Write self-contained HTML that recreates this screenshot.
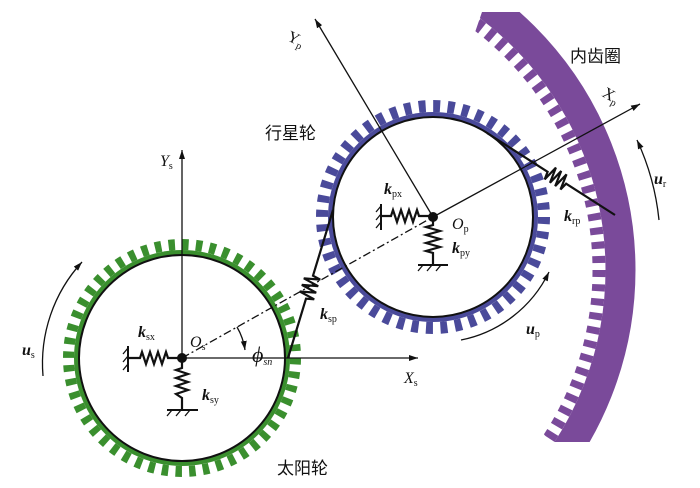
<!DOCTYPE html>
<html><head><meta charset="utf-8"><style>
html,body{margin:0;padding:0;background:#fff;width:700px;height:488px;overflow:hidden;}
svg{display:block;}
text{font-family:"Liberation Serif","Noto Serif CJK SC",serif;fill:#111;}
.cn{font-family:"Liberation Sans","Noto Sans CJK SC",sans-serif;font-size:17px;}
.it{font-style:italic;font-weight:bold;font-size:16px;}
.sub{font-size:10px;font-style:normal;font-weight:normal;}
</style></head><body>
<svg width="700" height="488" viewBox="0 0 700 488" xmlns="http://www.w3.org/2000/svg">
<defs>
<marker id="ar" markerWidth="10" markerHeight="8" refX="9" refY="4" orient="auto" markerUnits="userSpaceOnUse"><path d="M0,1 L9,4 L0,7 Z" fill="#111"/></marker>
<clipPath id="rc"><polygon points="482,12 700,12 700,442 550,442 400,250"/></clipPath>
</defs>
<!-- ring gear -->
<g clip-path="url(#rc)" fill="none" stroke="#7a4a9a">
<circle cx="290.5" cy="270" r="330" stroke-width="30"/>
<circle cx="290.5" cy="270" r="308.5" stroke-width="13" stroke-dasharray="7 7.253"/>
</g>
<!-- sun gear -->
<circle cx="182" cy="358" r="108" fill="#3a8f2e"/>
<circle cx="182" cy="358" r="113.5" fill="none" stroke="#3a8f2e" stroke-width="11" stroke-dasharray="6.5 7.213"/>
<!-- planet gear -->
<circle cx="433" cy="217" r="105" fill="#4a4a9a"/>
<circle cx="433" cy="217" r="111" fill="none" stroke="#4a4a9a" stroke-width="12" stroke-dasharray="7 7.529"/>
<circle cx="182" cy="358" r="103" fill="#fff" stroke="#111" stroke-width="2"/>
<circle cx="433" cy="217" r="100" fill="#fff" stroke="#111" stroke-width="2"/>
<!-- axes -->
<g stroke="#111" stroke-width="1.3" fill="none">
<line x1="182" y1="358" x2="182" y2="150" marker-end="url(#ar)"/>
<line x1="182" y1="358" x2="418" y2="358" marker-end="url(#ar)"/>
<line x1="433" y1="217" x2="315" y2="19" marker-end="url(#ar)"/>
<line x1="433" y1="217" x2="640" y2="104" marker-end="url(#ar)"/>
<line x1="182" y1="358" x2="433" y2="217" stroke-dasharray="8,3,2,3"/>
<path d="M237,327 A63,63 0 0 1 245,350" marker-end="url(#ar)"/>
<path d="M43,376 A150,150 0 0 1 82,262" marker-end="url(#ar)"/>
<path d="M461,340 A125,125 0 0 0 549,272" marker-end="url(#ar)"/>
<path d="M659,220 A250,250 0 0 0 637,140" marker-end="url(#ar)"/>
</g>
<!-- springs -->
<g stroke="#111" fill="none" stroke-width="2.2" stroke-linejoin="miter">
<path d="M128,358 L140,358 L142,352 L146,364 L150,352 L154,364 L158,352 L162,364 L166,352 L168,358 L182,358"/>
<path d="M182,358 L182,368 L176,370 L188,374 L176,378 L188,382 L176,386 L188,390 L176,394 L182,398 L182,410"/>
<path d="M381,216 L391,216 L393,210 L397,222 L401,210 L405,222 L409,210 L413,222 L417,210 L419,216 L433,216"/>
<path d="M433,217 L433,225 L426,227 L440,231 L426,235 L440,239 L426,243 L440,247 L426,251 L433,253 L433,265"/>
<path d="M288,358 L306,298.7 L314.2,299.3 L299.8,291.5 L316.2,292.7 L301.8,284.9 L318.2,286.2 L303.8,278.3 L320.2,279.6 L313,275.7 L333,210"/>
<path d="M487,133 L547.6,171.8 L544.7,179.4 L555.9,167.6 L550,182.8 L561.2,171 L555.2,186.1 L566.5,174.4 L560.5,189.5 L566.1,183.7 L615,215"/>
<path d="M128,346 L128,372 M418,265 L448,265 M167,410 L198,410 M381,204 L381,230" stroke-width="2"/>
<path d="M128,348 l-5,6 M128,356 l-5,6 M128,364 l-5,6 M172,410 l-5,6 M181,410 l-5,6 M190,410 l-5,6 M381,206 l-5,6 M381,214 l-5,6 M381,222 l-5,6 M423,265 l-5,6 M432,265 l-5,6 M441,265 l-5,6" stroke-width="1.3"/>
</g>
<circle cx="182" cy="358" r="5" fill="#111"/>
<circle cx="433" cy="217" r="5" fill="#111"/>
<!-- labels -->
<text class="cn" x="265" y="139">行星轮</text>
<text class="cn" x="570" y="62">内齿圈</text>
<text class="cn" x="277" y="474">太阳轮</text>
<text x="160" y="166" style="font-style:italic;font-size:16px">Y<tspan class="sub" dy="3">s</tspan></text>
<text x="404" y="383" style="font-style:italic;font-size:16px">X<tspan class="sub" dy="3">s</tspan></text>
<text x="288" y="44" transform="rotate(25 296 38)" style="font-size:16px">Y<tspan class="sub" dy="3">p</tspan></text>
<text x="603" y="101" transform="rotate(30 612 95)" style="font-size:16px">X<tspan class="sub" dy="3">p</tspan></text>
<text x="190" y="347" style="font-style:italic;font-size:16px">O<tspan class="sub" dy="3">s</tspan></text>
<text x="452" y="229" style="font-style:italic;font-size:16px">O<tspan class="sub" dy="3">p</tspan></text>
<text x="252" y="362" style="font-style:italic;font-size:22px">ϕ<tspan class="sub" dy="3" style="font-style:italic">sn</tspan></text>
<text class="it" x="138" y="337">k<tspan class="sub" dy="3">sx</tspan></text>
<text class="it" x="202" y="400">k<tspan class="sub" dy="3">sy</tspan></text>
<text class="it" x="320" y="319">k<tspan class="sub" dy="3">sp</tspan></text>
<text class="it" x="384" y="194">k<tspan class="sub" dy="3">px</tspan></text>
<text class="it" x="452" y="253">k<tspan class="sub" dy="3">py</tspan></text>
<text class="it" x="564" y="221">k<tspan class="sub" dy="3">rp</tspan></text>
<text class="it" x="22" y="355">u<tspan class="sub" dy="3">s</tspan></text>
<text class="it" x="526" y="334">u<tspan class="sub" dy="3">p</tspan></text>
<text class="it" x="654" y="184">u<tspan class="sub" dy="3">r</tspan></text>
</svg>
</body></html>
